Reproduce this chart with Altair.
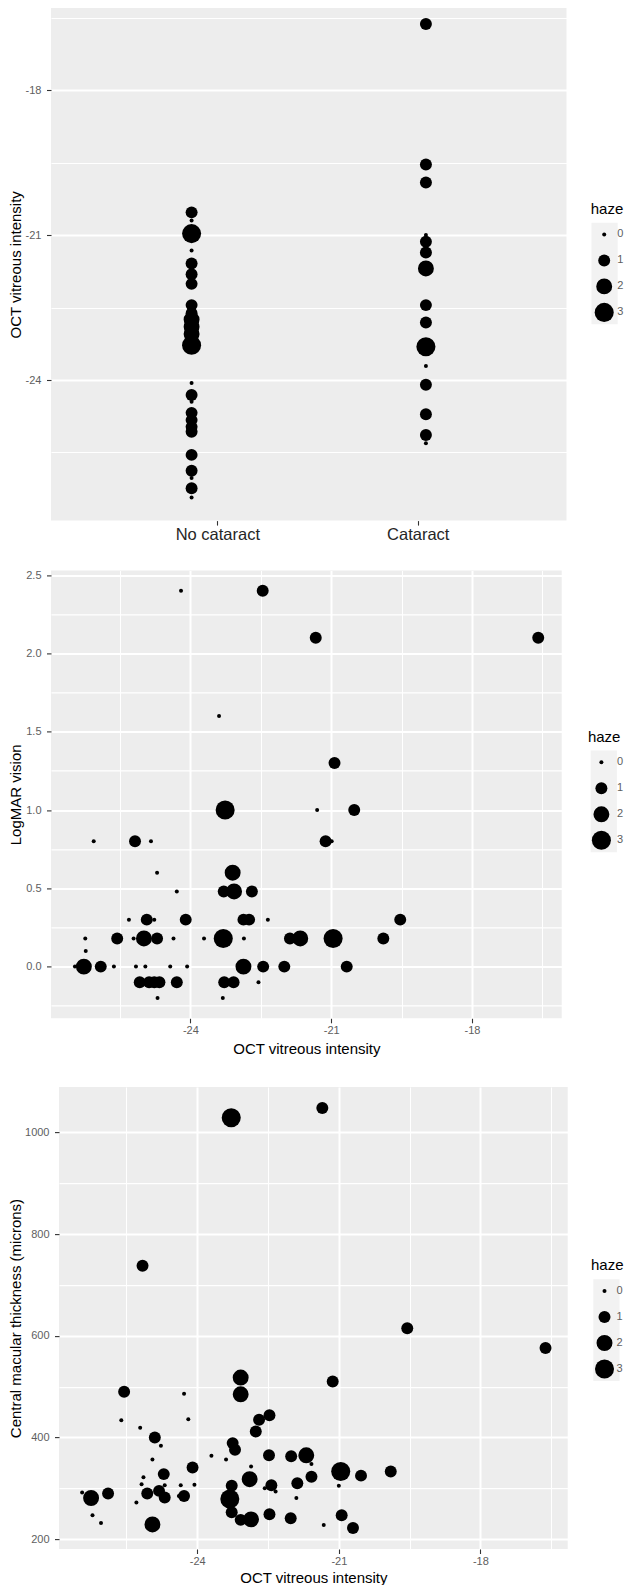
import altair as alt
import pandas as pd

FONT = "Liberation Sans"
BG = "#EDEDED"
KEY_BG = "#F2F2F2"
SIZES = [16, 143, 254, 363]

# ---------- Panel 1: OCT vitreous intensity by cataract ----------
p1_groups = ["No cataract", "Cataract"]
p1_label_pos = [1.11, 1.965]          # where the category labels sit on the axis
p1_nocat_oct = [-20.53, -20.70, -20.97, -21.32, -21.59, -21.81, -22.01, -22.45, -22.62,
                -22.75, -22.90, -23.05, -23.15, -23.28, -24.06, -24.31, -24.45, -24.68,
                -24.83, -24.97, -25.07, -25.55, -25.88, -26.03, -26.24, -26.43]
p1_nocat_haze = [1, 0, 3, 0, 1, 1, 1, 1, 1, 2, 2, 2, 1, 3, 0, 1, 0, 1, 1, 1, 1, 1, 1, 0, 1, 0]
p1_cat_oct = [-16.63, -19.54, -19.91, -21.00, -21.14, -21.36, -21.69, -22.45, -22.81,
              -23.31, -23.71, -24.10, -24.71, -25.14, -25.31]
p1_cat_haze = [1, 1, 1, 0, 1, 1, 2, 1, 1, 3, 0, 1, 1, 1, 0]
p1_ticks = [-16.5, -18, -19.5, -21, -22.5, -24, -25.5]

# ---------- Panel 2: LogMAR vision vs OCT vitreous intensity ----------
p2_oct = [-24.20, -22.46, -21.33, -16.59, -23.39, -20.93, -23.26, -21.30, -20.51, -21.12,
          -20.99, -26.06, -25.18, -24.84, -24.71, -23.10, -24.29, -23.29, -23.07, -22.69,
          -25.31, -24.93, -24.77, -24.10, -22.87, -22.75, -22.35, -19.53,
          -26.24, -25.56, -25.21, -24.99, -24.71, -24.36, -23.71, -23.30, -22.86, -21.88,
          -21.66, -20.96, -19.89,
          -26.23,
          -26.46, -26.27, -25.91, -25.63, -25.16, -24.96, -24.43, -24.07, -22.87, -22.45,
          -22.00, -20.67,
          -25.08, -24.88, -24.77, -24.66, -24.29, -23.28, -23.08, -22.55,
          -24.70, -23.31]
p2_logmar = [2.4, 2.4, 2.1, 2.1, 1.6, 1.3, 1.0, 1.0, 1.0, 0.8,
             0.8, 0.8, 0.8, 0.8, 0.6, 0.6, 0.48, 0.48, 0.48, 0.48,
             0.3, 0.3, 0.3, 0.3, 0.3, 0.3, 0.3, 0.3,
             0.18, 0.18, 0.18, 0.18, 0.18, 0.18, 0.18, 0.18, 0.18, 0.18,
             0.18, 0.18, 0.18,
             0.1,
             0.0, 0.0, 0.0, 0.0, 0.0, 0.0, 0.0, 0.0, 0.0, 0.0,
             0.0, 0.0,
             -0.1, -0.1, -0.1, -0.1, -0.1, -0.1, -0.1, -0.1,
             -0.2, -0.2]
p2_haze = [0, 1, 1, 1, 0, 1, 3, 0, 1, 1,
           0, 0, 1, 0, 0, 2, 0, 1, 2, 1,
           0, 1, 0, 1, 1, 1, 0, 1,
           0, 1, 0, 2, 1, 0, 0, 3, 0, 1,
           2, 3, 1,
           0,
           0, 2, 1, 0, 0, 0, 0, 0, 2, 1,
           1, 1,
           1, 1, 1, 1, 1, 1, 1, 0,
           0, 0]
p2_yticks = [-0.25, 0.0, 0.25, 0.5, 0.75, 1.0, 1.25, 1.5, 1.75, 2.0, 2.25, 2.5]

# ---------- Panel 3: Central macular thickness vs OCT vitreous intensity ----------
p3_oct = [-23.28, -21.35, -25.16, -19.55, -16.62, -21.13, -25.55, -24.28, -23.08, -23.08,
          -25.61, -24.19, -25.21, -22.47, -22.69, -22.76, -24.90, -24.77, -24.95, -23.70,
          -23.39, -23.25, -23.20, -22.86, -22.89, -24.10, -24.71, -25.14, -25.18, -24.69,
          -24.35, -24.06, -26.44, -26.25, -25.89, -25.06, -24.81, -24.69, -24.39, -24.28,
          -25.29, -26.22, -26.04, -24.95, -23.27, -23.31, -23.27, -23.08, -22.86, -22.48,
          -22.01, -21.69, -21.58, -21.58, -20.96, -21.00, -20.53, -19.90, -22.43, -22.57,
          -22.34, -21.88, -21.90, -22.47, -22.02, -20.94, -21.32, -20.70]
p3_cmt = [1029, 1048, 738, 615, 576, 510, 490, 486, 518, 485,
          434, 436, 419, 444, 435, 412, 400, 384, 357, 364,
          357, 389, 376, 343, 318, 341, 328, 322, 308, 306,
          306, 307, 292, 281, 290, 290, 295, 282, 285, 285,
          272, 247, 232, 229, 305, 279, 253, 238, 239, 365,
          363, 365, 348, 323, 333, 305, 325, 333, 306, 300,
          294, 310, 281, 249, 241, 247, 228, 222]
p3_haze = [3, 1, 1, 1, 1, 1, 1, 0, 2, 2,
           0, 0, 0, 1, 1, 1, 1, 0, 0, 0,
           0, 1, 1, 0, 2, 1, 1, 0, 0, 0,
           0, 0, 0, 2, 1, 1, 1, 1, 0, 1,
           0, 0, 0, 2, 1, 3, 1, 1, 2, 1,
           1, 2, 0, 1, 3, 0, 1, 1, 1, 0,
           0, 1, 0, 1, 1, 1, 0, 1]
p3_yticks = [200, 300, 400, 500, 600, 700, 800, 900, 1000]

x_oct_ticks = [-25.5, -24, -22.5, -21, -19.5, -18, -16.5]
haze_levels = [0, 1, 2, 3]

# ---------- tables ----------
df1 = pd.DataFrame({
    "group": [p1_groups[0]] * len(p1_nocat_oct) + [p1_groups[1]] * len(p1_cat_oct),
    "oct": p1_nocat_oct + p1_cat_oct,
    "haze": p1_nocat_haze + p1_cat_haze,
})
df2 = pd.DataFrame({"oct": p2_oct, "logmar": p2_logmar, "haze": p2_haze})
df3 = pd.DataFrame({"oct": p3_oct, "cmt": p3_cmt, "haze": p3_haze})
one = pd.DataFrame({"k": [0]})

TICK_COLOR = "#333333"
LABEL_COLOR = "#5E5E5E"
TICK = 4.5
ROW = 25.4


def cond(test, a, b):
    return {"condition": {"test": test, "value": a}, "value": b}


def axis_num(values, major_test, fmt, title, orient, title_pos=None, **kw):
    args = dict(
        values=values,
        labelExpr=f"({major_test}) ? {fmt} : ''",
        grid=True,
        gridColor="white",
        gridWidth=cond(major_test, 2.0, 1.1),
        tickOpacity=cond(major_test, 1, 0),
        domain=False,
        tickColor=TICK_COLOR,
        tickSize=TICK,
        tickWidth=1.1,
        labelColor=LABEL_COLOR,
        labelFontSize=11,
        labelPadding=5.5 if orient == "y" else 2,
        labelFlush=False,
        title=title,
        titleFontSize=15,
        titleFontWeight="normal",
        titleColor="black",
    )
    if title_pos is not None:
        if orient == "y":
            args["titleX"] = title_pos
        else:
            args["titleY"] = title_pos
    args.update(kw)
    return alt.Axis(**args)


def size_enc(lx, ly, label_offset):
    return alt.Size(
        "haze:Q",
        scale=alt.Scale(type="linear", domain=haze_levels, range=SIZES),
        legend=alt.Legend(
            title="haze", orient="none", legendX=lx, legendY=ly, values=haze_levels,
            format="d", clipHeight=ROW - 2, rowPadding=2, symbolOffset=3.5,
            labelOffset=label_offset,
            titleFontSize=15, titleFontWeight="normal", titleColor="black",
            titlePadding=6, labelFontSize=11, labelColor=LABEL_COLOR,
            symbolFillColor="black", symbolStrokeWidth=0, symbolType="circle",
            symbolOpacity=1,
        ),
    )


def key_box(lx, ly):
    # grey background behind the legend keys (ggplot legend.key)
    return alt.Chart(one).mark_rect(color=KEY_BG).encode(
        x=alt.value(lx + 0.8), x2=alt.value(lx + 27),
        y=alt.value(ly + 21), y2=alt.value(ly + 21 + 4 * ROW),
    )


M3 = "datum.value % 3 == 0"

L1 = (539.7, 193.7)
pts1 = alt.Chart(df1).transform_calculate(
    pos="indexof(" + str(p1_groups) + ", datum.group) + 1"
).mark_circle(color="black", opacity=1).encode(
    x=alt.X("pos:Q", scale=alt.Scale(domain=[0.4, 2.6], nice=False, zero=False),
            axis=alt.Axis(values=p1_label_pos, title=None, labelAngle=0,
                          labelExpr="datum.value < 1.5 ? '" + p1_groups[0] + "' : '"
                          + p1_groups[1] + "'",
                          labelFontSize=16.5, labelColor="#262626", labelFlush=False,
                          grid=False, domain=False, tickColor=TICK_COLOR, tickSize=TICK,
                          tickWidth=1.1, labelPadding=1)),
    y=alt.Y("oct:Q", scale=alt.Scale(domain=[-26.91, -16.30], nice=False, zero=False),
            axis=axis_num(p1_ticks, M3, "toString(datum.value)", "OCT vitreous intensity",
                          "y", -27.5)),
    size=size_enc(L1[0], L1[1], 3.0),
)
p1 = alt.layer(key_box(*L1), pts1).properties(width=515.5, height=512.6)

H2 = "abs(datum.value * 2 - round(datum.value * 2)) < 0.001"
L2 = (536.9, 159.2)
pts2 = alt.Chart(df2).mark_circle(color="black", opacity=1).encode(
    x=alt.X("oct:Q", scale=alt.Scale(domain=[-26.97, -16.09], nice=False, zero=False),
            axis=axis_num(x_oct_ticks, M3, "toString(datum.value)", "OCT vitreous intensity",
                          "x", 23)),
    y=alt.Y("logmar:Q", scale=alt.Scale(domain=[-0.33, 2.53], nice=False, zero=False),
            axis=axis_num(p2_yticks, H2, "format(datum.value, '.1f')", "LogMAR vision",
                          "y", -27.5)),
    size=size_enc(L2[0], L2[1], 5.5),
)
p2 = alt.layer(key_box(L2[0] + 2, L2[1]), pts2).properties(width=510.7, height=447.9)

M200 = "datum.value % 200 == 0"
L3 = (532.0, 171.2)
pts3 = alt.Chart(df3).mark_circle(color="black", opacity=1).encode(
    x=alt.X("oct:Q", scale=alt.Scale(domain=[-26.93, -16.15], nice=False, zero=False),
            axis=axis_num(x_oct_ticks, M3, "toString(datum.value)", "OCT vitreous intensity",
                          "x", 21)),
    y=alt.Y("cmt:Q", scale=alt.Scale(domain=[180.7, 1089.3], nice=False, zero=False),
            axis=axis_num(p3_yticks, M200, "toString(datum.value)",
                          "Central macular thickness (microns)", "y", -35.5)),
    size=size_enc(L3[0], L3[1], 2.0),
)
p3 = alt.layer(key_box(L3[0] + 1.5, L3[1]), pts3).properties(width=508.7, height=461.9)

spacer = alt.Chart(one).mark_point(opacity=0, size=1).encode(
    x=alt.value(4), y=alt.value(5)
).properties(width=8, height=10, view=alt.ViewBackground(fill=None, stroke=None))

top = alt.vconcat(p1, p2, spacing=25.4).resolve_scale(size="independent")
bottom = alt.hconcat(spacer, p3, spacing=0, bounds="flush").resolve_scale(size="independent")

chart = alt.vconcat(top, bottom, spacing=30.1).resolve_scale(size="independent").properties(
    padding=0
).configure(font=FONT).configure_view(fill=BG, stroke=None).configure_axis(
    labelFont=FONT, titleFont=FONT
).configure_legend(labelFont=FONT, titleFont=FONT)

chart.save("out.html", embed_options={"renderer": "svg", "actions": False})
